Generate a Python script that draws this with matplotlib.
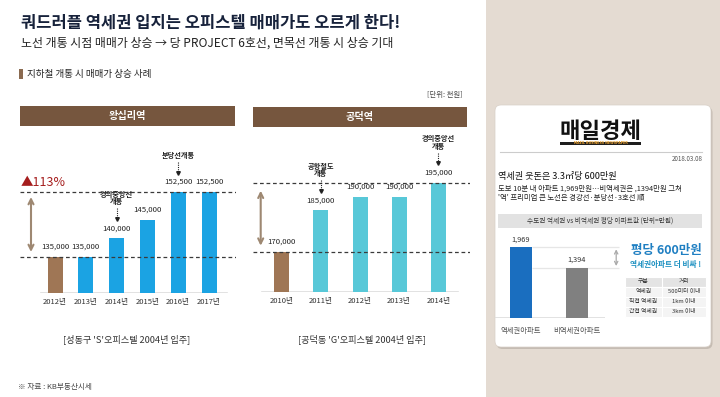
import matplotlib
matplotlib.use('Agg')
import matplotlib.pyplot as plt
from matplotlib.patches import Rectangle, FancyBboxPatch

plt.rcParams['font.family'] = ['Noto Sans CJK KR', 'DejaVu Sans']

# ---------------- data ----------------
wang_years = ['2012년', '2013년', '2014년', '2015년', '2016년', '2017년']
wang_values = [135000, 135000, 140000, 145000, 152500, 152500]
wang_notes = {2: '경의중앙선\n개통', 4: '분당선개통'}
wang_title = '왕십리역'
wang_caption = "[성동구 'S'오피스텔 2004년 입주]"
wang_rise = '▲113%'

gong_years = ['2010년', '2011년', '2012년', '2013년', '2014년']
gong_values = [170000, 185000, 190000, 190000, 195000]
gong_notes = {1: '공항철도\n개통', 4: '경의중앙선\n개통'}
gong_title = '공덕역'
gong_caption = "[공덕동 'G'오피스텔 2004년 입주]"

apt_labels = ['역세권아파트', '비역세권아파트']
apt_values = [1969, 1394]

table_header = ['구분', '거리']
table_rows = [['역세권', '500미터 이내'], ['직접 역세권', '1km 이내'], ['간접 역세권', '3km 이내']]

# ---------------- colours ----------------
BROWN_BAR = '#9f7655'
BLUE_BAR = '#1ba3e3'
TEAL_BAR = '#58c8d8'
HEADER = '#76563e'
ARROW_TAN = '#9e8872'
BEIGE = '#e4dbd2'

W, H = 720, 397
fig = plt.figure(figsize=(7.2, 3.97), dpi=100)
fig.patch.set_facecolor('white')

bg = fig.add_axes([0, 0, 1, 1], zorder=0)
bg.set_xlim(0, W)
bg.set_ylim(H, 0)
bg.axis('off')


def px_axes(x0, y0, x1, y1, z=2):
    ax = fig.add_axes([x0 / W, 1 - y1 / H, (x1 - x0) / W, (y1 - y0) / H], zorder=z)
    ax.patch.set_alpha(0)
    for s in ax.spines.values():
        s.set_visible(False)
    return ax


# ---------------- left header texts ----------------
bg.text(21, 23, '쿼드러플 역세권 입지는 오피스텔 매매가도 오르게 한다!', fontsize=11.9,
        fontweight='bold', color='#17223b', va='center', ha='left')
bg.text(21, 43, '노선 개통 시점 매매가 상승 → 당 PROJECT 6호선, 면목선 개통 시 상승 기대',
        fontsize=8.6, color='#222222', va='center', ha='left')
bg.add_patch(Rectangle((19, 69), 3.5, 10, fc='#8a6a50', ec='none'))
bg.text(27, 74, '지하철 개통 시 매매가 상승 사례', fontsize=6.9, color='#222222',
        va='center', ha='left')
bg.text(463, 95, '[단위: 천원]', fontsize=5.3, color='#444444', va='center', ha='right')


def make_chart(box, values, labels, colors, c0, step, bar_w, val_a, px_a, val_b, px_b,
               notes, dash_vals, base_span, arrow_px, arrow_gap, title_box, title):
    x0, y0, x1, y1 = box
    ax = px_axes(x0, y0, x1, y1)
    k = (val_b - val_a) / (px_a - px_b)  # value per pixel
    ax.set_xlim((x0 - c0) / step, (x1 - c0) / step)
    ymin = val_a - (y1 - px_a) * k
    ax.set_ylim(ymin, val_a + (px_a - y0) * k)
    xs = list(range(len(values)))
    ax.bar(xs, values, width=bar_w / step, color=colors, zorder=3)
    ax.set_xticks(xs, labels)
    ax.tick_params(axis='x', length=0, pad=4, labelsize=5.5, labelcolor='#333333')
    ax.set_yticks([])
    # baseline
    ax.axhline(ymin, xmin=(base_span[0] - x0) / (x1 - x0), xmax=(base_span[1] - x0) / (x1 - x0),
               color='#dddddd', lw=1.2, zorder=2)
    for dv in dash_vals:
        ax.axhline(dv, color='#3a3a3a', lw=0.9, ls=(0, (3, 2.2)), zorder=4)
    for x, v in zip(xs, values):
        ax.annotate(f'{v:,}', (x, v), xytext=(0, 10), textcoords='offset pixels',
                    ha='center', va='center', fontsize=5.6, color='#222222')
    for i, txt in notes.items():
        v = values[i]
        ax.annotate(txt, (i, v), xytext=(0, 33), textcoords='offset pixels', ha='center',
                    va='bottom', fontsize=5.2, fontweight='bold', color='#222222',
                    linespacing=1.05)
        ax.plot([i, i], [v + 30 * k, v + 21 * k], color='#222222', lw=0.8, ls=(0, (1, 1)),
                zorder=5)
        ax.plot([i], [v + 19.5 * k], marker='v', ms=2.6, color='#222222', zorder=5)
    xa = (arrow_px - c0) / step
    ax.annotate('', xy=(xa, dash_vals[0] + arrow_gap[0] * k),
                xytext=(xa, dash_vals[1] - arrow_gap[1] * k),
                arrowprops=dict(arrowstyle='<->', color=ARROW_TAN, lw=1.5, mutation_scale=9,
                                shrinkA=0, shrinkB=0))
    tx0, ty0, tx1, ty1 = title_box
    bg.add_patch(Rectangle((tx0, ty0), tx1 - tx0, ty1 - ty0, fc=HEADER, ec='none'))
    bg.text((tx0 + tx1) / 2, (ty0 + ty1) / 2, title, fontsize=7.3, fontweight='bold',
            color='white', ha='center', va='center')
    return ax


make_chart((20, 150, 236, 292.7), wang_values, wang_years,
           [BROWN_BAR] + [BLUE_BAR] * (len(wang_values) - 1),
           55, 30.8, 15, 135000, 257, 152500, 192,
           wang_notes, [135000, 152500], (41, 227), 31, (5, 5),
           (20, 106, 235, 126), wang_title)

make_chart((252.7, 130, 470, 291.7), gong_values, gong_years,
           [BROWN_BAR] + [TEAL_BAR] * (len(gong_values) - 1),
           281.7, 39.15, 15, 170000, 251.7, 195000, 182.7,
           gong_notes, [170000, 195000], (262, 458), 260.7, (6, 8),
           (253, 107, 467, 127), gong_title)

bg.text(21, 182, wang_rise, fontsize=9, color='#a51d1d', ha='left', va='center')

bg.text(127, 339, wang_caption, fontsize=6.6, color='#333333', ha='center', va='center')
bg.text(362, 339, gong_caption, fontsize=6.6, color='#333333', ha='center', va='center')
bg.text(18, 387, '※ 자료 : KB부동산시세', fontsize=5.5, color='#444444', ha='left', va='center')

# ---------------- right panel ----------------
bg.add_patch(Rectangle((486, 0), W - 486, H, fc=BEIGE, ec='none'))
bg.add_patch(FancyBboxPatch((496.5, 107), 216, 242, boxstyle='round,pad=0,rounding_size=6',
                            fc='#b9b0a6', ec='none', alpha=0.7))
bg.add_patch(FancyBboxPatch((495, 105), 216, 242, boxstyle='round,pad=0,rounding_size=6',
                            fc='white', ec='#d8d0c8', lw=0.5))

bg.text(600.5, 131, '매일경제', fontsize=16, fontweight='bold', color='#111111',
        ha='center', va='center')
bg.add_patch(Rectangle((560, 141.6), 81, 3.4, fc='#1e1e1e', ec='none'))
bg.text(600.5, 143.3, 'MAEIL BUSINESS NEWSPAPER', fontsize=2.3, color='#e8a030',
        ha='center', va='center', family='DejaVu Sans', fontweight='bold')
bg.plot([500, 702], [151.7, 151.7], color='#cccccc', lw=0.8)
bg.text(703, 159.3, '2018.03.08', fontsize=4.5, color='#555555', ha='right', va='center')
bg.text(498, 177, '역세권 웃돈은 3.3㎡당 600만원', fontsize=6.6, color='#111111',
        ha='left', va='center')
bg.text(498, 188.7, '도보 10분 내 아파트 1,969만원…비역세권은 ,1394만원 그쳐', fontsize=5.3,
        color='#222222', ha='left', va='center')
bg.text(498, 197.7, "'역' 프리미엄 큰 노선은 경강선·분당선·3호선 順", fontsize=5.3,
        color='#222222', ha='left', va='center')
bg.add_patch(Rectangle((498, 214), 204, 14, fc='#e2e2e2', ec='none'))
bg.text(600, 221, '수도권 역세권 vs 비역세권 평당 아파트값 (단위=만원)', fontsize=4.8,
        color='#333333', ha='center', va='center')

# card bar chart
cx0, cy0, cx1, cy1 = 495, 232, 605, 318.3
cax = px_axes(cx0, cy0, cx1, cy1, z=3)
c_step, c_c0 = 56, 521
kk = apt_values[0] / (cy1 - 247.3)
cax.set_xlim((cx0 - c_c0) / c_step, (cx1 - c_c0) / c_step)
cax.set_ylim(0, (cy1 - cy0) * kk)
cx = list(range(len(apt_values)))
cax.bar(cx, apt_values, width=21.7 / c_step, color=['#1a6ebf', '#808080'], zorder=3)
cax.set_xticks(cx, apt_labels)
cax.tick_params(axis='x', length=0, pad=6, labelsize=5.3, labelcolor='#555555')
cax.set_yticks([])
cax.axhline(0, color='#dddddd', lw=1.2)
cax.hlines(apt_values, 0.2, 1.75, colors='#e6e6e6', lw=0.9, clip_on=False, zorder=1)
for x, v in zip(cx, apt_values):
    cax.annotate(f'{v:,}', (x, v), xytext=(0, 8), textcoords='offset pixels', ha='center',
                 va='center', fontsize=5.3, color='#333333')
cax.annotate('', xy=(1.7, apt_values[1] + 2 * kk), xytext=(1.7, apt_values[0] - 2 * kk),
             arrowprops=dict(arrowstyle='<->', color='#aaaaaa', lw=0.9, mutation_scale=6,
                             shrinkA=0, shrinkB=0), annotation_clip=False)

bg.text(666.5, 250.7, '평당 600만원', fontsize=9, fontweight='bold', color='#1f7fc2',
        ha='center', va='center')
bg.text(666, 265, '역세권아파트 더 비싸 !', fontsize=5.5, fontweight='bold', color='#1a8fc0',
        ha='center', va='center')

# table
tx = [625, 662, 706]
row_h = 10
ty = 276.7
all_rows = [table_header] + table_rows
for r, row in enumerate(all_rows):
    y = ty + r * row_h
    bg.add_patch(Rectangle((tx[0], y), tx[2] - tx[0], row_h,
                           fc='#e4e4e4' if r == 0 else '#f4f4f4', ec='white', lw=0.8))
    for c, val in enumerate(row):
        bg.text((tx[c] + tx[c + 1]) / 2, y + row_h / 2, val, fontsize=4.2, color='#333333',
                ha='center', va='center')
bg.plot([tx[1], tx[1]], [ty, ty + row_h * len(all_rows)], color='white', lw=0.8)

fig.savefig('out.png', dpi=100, facecolor='white')
